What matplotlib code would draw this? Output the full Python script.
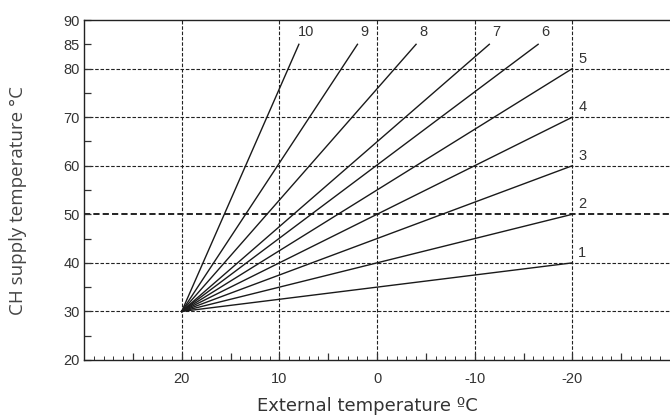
import numpy as np
import matplotlib
matplotlib.use('Agg')
import matplotlib.pyplot as plt

# heating curves: all start at (20 °C outside, 30 °C supply)
curve_ids = ['1', '2', '3', '4', '5', '6', '7', '8', '9', '10']
start_ext = 20
start_supply = 30
end_ext = [-20, -20, -20, -20, -20, -16.5, -11.5, -4, 2, 8]
end_supply = [40, 50, 60, 70, 80, 85, 85, 85, 85, 85]

x_grid = [20, 10, 0, -10, -20]
y_grid = [30, 40, 50, 60, 70, 80]
y_ticks = [20, 30, 40, 50, 60, 70, 80, 85, 90]
y_minor = [25, 35, 45, 55, 65, 75]

plt.rcParams['font.family'] = ['Liberation Sans', 'DejaVu Sans']

fig = plt.figure(figsize=(6.70, 4.17), dpi=100)
ax = fig.add_axes([0.1254, 0.1367, 0.8746, 0.8153])

ax.set_xlim(30, -30)
ax.set_ylim(20, 90)

# grid drawn by hand so the 50 line can be heavier
dash = (0, (3.2, 1.6))
for xv in x_grid:
    ax.axvline(xv, color='#222222', lw=0.8, ls=dash, zorder=1)
for yv in y_grid:
    ax.axhline(yv, color='#222222', lw=1.4 if yv == 50 else 0.8, ls=dash, zorder=1)

for cid, xe, ye in zip(curve_ids, end_ext, end_supply):
    ax.plot([start_ext, xe], [start_supply, ye], color='#1a1a1a', lw=1.0, zorder=3)
    if xe == -20:
        ax.annotate(cid, (xe, ye), xytext=(10, 10), textcoords='offset pixels',
                    ha='center', va='center', fontsize=10.5, color='#333333')
    else:
        ax.annotate(cid, (xe, ye), xytext=(7, 12), textcoords='offset pixels',
                    ha='center', va='center', fontsize=10.5, color='#333333')

ax.set_xticks(np.arange(-25, 30, 5))
ax.set_xticklabels(['' if v % 10 else str(v) for v in np.arange(-25, 30, 5)])
ax.set_xticks(np.arange(-30, 31, 1), minor=True)
ax.tick_params(axis='x', which='major', direction='in', length=5, width=0.9,
               labelsize=10.5, pad=9, colors='#333333')
ax.tick_params(axis='x', which='minor', direction='in', length=3, width=0.7,
               colors='#333333')

ax.set_yticks(y_ticks)
ax.set_yticks(y_minor, minor=True)
ax.tick_params(axis='y', which='both', direction='in', length=5, width=0.9,
               labelsize=10.5, pad=3, colors='#333333')

for s in ['left', 'bottom', 'top']:
    ax.spines[s].set_color('#222222')
    ax.spines[s].set_linewidth(1.0)
ax.spines['right'].set_visible(False)

ax.set_xlabel('External temperature ºC', fontsize=13, color='#333333',
              family=['DejaVu Sans'], va='top')
ax.xaxis.set_label_coords(0.483, -0.11)
ax.set_ylabel('CH supply temperature °C', fontsize=13.5, color='#444444',
              family=['Open Sans', 'DejaVu Sans'])
ax.yaxis.set_label_coords(-0.097, 0.47)

fig.savefig('out.png', dpi=100)
